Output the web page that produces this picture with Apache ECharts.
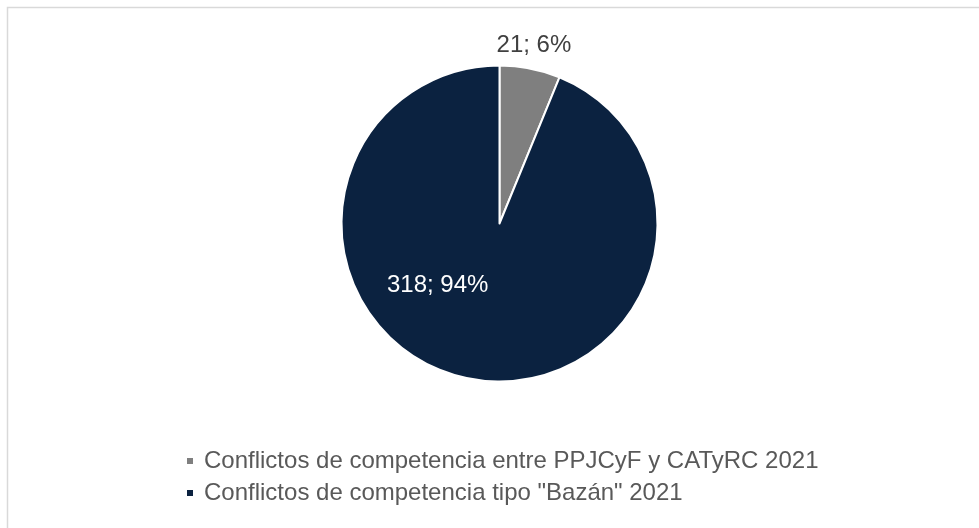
<!DOCTYPE html>
<html>
<head>
<meta charset="utf-8">
<script src="https://cdn.jsdelivr.net/npm/echarts@6/dist/echarts.min.js"></script>
<style>
  html, body { margin: 0; padding: 0; background: #fff; }
  #chartPie { width: 979px; height: 528px; }
</style>
</head>
<body>
<div id="chartPie"></div>
<script>
// datos del gráfico
const categories = [
  'Conflictos de competencia entre PPJCyF y CATyRC 2021',
  'Conflictos de competencia tipo "Bazán" 2021'
];
const values = [21, 318];
const colors = ['#7f7f7f', '#0b2240'];

const chart = echarts.init(document.getElementById('chartPie'));

const option = {
  animation: false,
  textStyle: { fontFamily: 'Liberation Sans, Arial, sans-serif' },
  graphic: [
    {
      type: 'rect',
      shape: { x: 7.5, y: 7.5, width: 1000, height: 600 },
      style: { fill: 'none', stroke: '#d9d9d9', lineWidth: 1.5 },
      silent: true
    }
  ],
  legend: {
    orient: 'vertical',
    left: 180,
    top: 444,
    itemWidth: 8,
    itemHeight: 8,
    itemGap: 8,
    icon: 'rect',
    textStyle: {
      color: '#595959',
      fontSize: 24,
      padding: [0, 0, 0, 5]
    },
    data: categories
  },
  series: [
    {
      type: 'pie',
      center: [499.5, 223.5],
      radius: 158,
      startAngle: 90,
      clockwise: true,
      avoidLabelOverlap: false,
      itemStyle: { borderColor: '#fff', borderWidth: 2 },
      label: {
        fontSize: 24,
        formatter: p => p.value + '; ' + Math.round(p.percent) + '%'
      },
      labelLine: { show: false, length: 25, length2: 0 },
      labelLayout: function (params) {
        if (params.dataIndex === 0) {
          return { align: 'center', dx: -1, dy: 1 };
        }
        return { dx: -46, dy: -19 };
      },
      data: categories.map((name, i) => ({
        name: name,
        value: values[i],
        itemStyle: { color: colors[i] },
        label: i === 0
          ? { position: 'outside', color: '#404040', distanceToLabelLine: 0 }
          : { position: 'inside', color: '#ffffff' }
      }))
    }
  ]
};

chart.setOption(option);
</script>
</body>
</html>
